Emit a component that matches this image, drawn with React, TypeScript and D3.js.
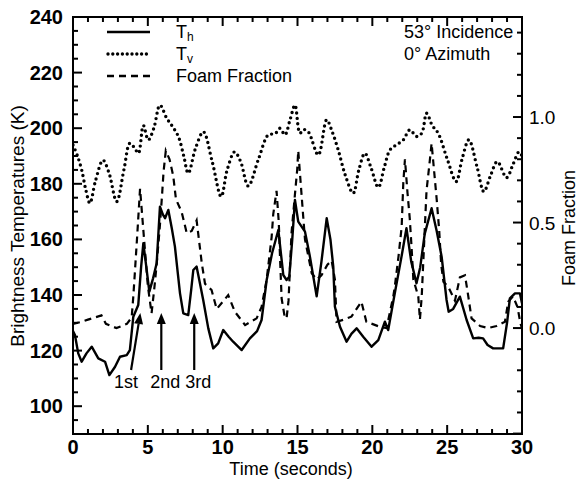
import React from "react";
import * as d3 from "d3";

// Time (s) and brightness temperature (K)
const thTime = [0,0.13,0.35,0.58,0.9,1.25,1.69,2.14,2.43,2.81,3.14,3.59,3.8,4.03,4.36,4.55,4.7,4.9,5.1,5.35,5.59,5.81,6.0,6.15,6.37,6.6,6.81,7.0,7.15,7.37,7.7,7.9,8.04,8.26,8.45,8.7,9.04,9.37,9.7,10.04,10.4,10.7,11.27,11.82,12.3,12.6,12.94,13.3,13.72,14.05,14.27,14.45,14.65,14.83,15.05,15.5,15.83,16.28,16.6,16.95,17.2,17.39,17.5,17.84,18.28,18.6,18.95,19.39,19.95,20.4,20.84,21.06,21.5,21.95,22.28,22.6,22.95,23.2,23.5,23.96,24.3,24.63,24.96,25.1,25.4,25.85,26.3,26.74,27.1,27.4,27.7,28.07,28.74,29.0,29.19,29.53,29.86,30];
const thValues = [127,125.6,119,116,119,121.4,117.2,116,111.2,114.2,117.8,118.4,120.2,132.2,136.4,150,158.6,150,141.2,146,151.4,171.8,169,167.6,170.6,164,157.4,148,140.6,133.4,132.8,142,149,150.2,145,138.2,128,120.8,122.6,127.4,125,123.2,120.2,124.4,127,131,145.4,155,163.4,147.2,145.4,146.6,160,174.2,166.4,162.8,153.8,139.5,152,167.6,160,150.2,135.8,128.6,123.2,126,128,125,121.4,123.8,130.4,127.4,140.6,153.8,164,152,144.2,150,162,171.2,163,153.8,138.2,134,135,139.4,131,124.4,124.6,124.4,122,120.8,120.8,130,138.8,140.6,140.6,137];

const tvTime = [0,0.3,0.58,0.85,1.13,1.5,2.0,2.4,2.92,3.4,3.8,4.1,4.37,4.7,5.03,5.4,5.81,6.26,6.6,7.04,7.4,7.7,8.2,8.71,9.3,9.9,10.3,10.8,11.2,11.71,12.4,13.05,13.5,13.83,14.16,14.5,14.83,15.16,15.4,15.72,16.39,16.95,17.3,17.72,18.2,18.72,19.1,19.5,19.9,20.4,20.8,21.18,21.6,22.07,22.5,22.96,23.3,23.63,24.0,24.4,25.0,25.6,26.0,26.45,27.0,27.45,27.9,28.35,28.97,29.4,29.8,30];
const tvValues = [194,190,185,178,173,181,188.5,184,173.6,185,194.6,193,191,201,195.8,200,208.3,203.6,201,197,190,183.8,193,198.7,188,175.4,185,191.5,188,179.2,189,197.6,198,200,197.6,203,208.3,198.2,199.5,198.7,190.4,203,199,192.2,183,176.6,185,191,186,178.7,186,192.2,194,195.8,199.4,197,198.2,205.4,201,198.2,189,180.8,189,195.8,186,177.2,183,188,182.2,187,191.5,190];

const foamTime = [0,0.6,1.0,1.9,2.2,2.9,3.6,3.92,4.03,4.14,4.3,4.48,4.75,5.0,5.25,5.45,5.6,5.8,5.95,6.05,6.2,6.45,6.7,6.88,7.26,7.6,7.93,8.26,8.6,8.82,9.26,9.6,10.37,10.82,11.5,12.27,12.6,12.94,13.27,13.38,13.6,13.75,13.85,13.94,14.15,14.27,14.4,14.6,14.85,14.98,15.05,15.38,15.5,15.95,16.28,16.6,17.0,17.28,17.5,17.61,18.1,18.6,19.27,19.6,20.5,20.95,21.4,21.5,21.75,21.96,22.07,22.18,22.35,22.5,22.62,22.74,23.07,23.18,23.3,23.62,23.85,23.96,24.3,24.47,24.6,24.75,25.07,25.52,25.85,26.19,26.4,26.63,27.2,27.74,28.3,28.86,29.08,29.4,29.7,29.9,30];
const foamValues = [0.02,0.03,0.04,0.06,0.02,0.0,0.02,0.05,0.15,0.27,0.45,0.66,0.42,0.2,0.07,0.2,0.31,0.48,0.63,0.74,0.84,0.8,0.72,0.61,0.55,0.45,0.46,0.51,0.31,0.21,0.18,0.09,0.156,0.077,0.014,0.046,0.1,0.23,0.43,0.54,0.65,0.5,0.3,0.14,0.05,0.046,0.13,0.45,0.65,0.75,0.84,0.53,0.42,0.26,0.23,0.25,0.3,0.32,0.23,0.03,0.04,0.054,0.125,0.03,0.006,0.0,0.15,0.196,0.34,0.48,0.69,0.8,0.64,0.52,0.385,0.23,0.15,0.04,0.15,0.65,0.8,0.875,0.61,0.46,0.3,0.22,0.196,0.13,0.24,0.25,0.156,0.046,0.01,0.0,0.01,0.03,0.125,0.15,0.1,0.02,0.0];

const xTicksMajor = [0,5,10,15,20,25,30];
const yTicksMajor = [100,120,140,160,180,200,220,240];
const foamTicksMajor = [0.0,0.5,1.0];

const legendItems = ["Th", "Tv", "Foam Fraction"];
const annotations = [
  { label: "1st", t: 4.5, tailT: 3.88 },
  { label: "2nd", t: 5.9, tailT: 5.9 },
  { label: "3rd", t: 8.1, tailT: 8.1 },
];

const W = 583, H = 480;
const M = { left: 73, right: 522, top: 17, bottom: 434 };
const FONT = "'Liberation Sans', Arial, Helvetica, sans-serif";

export default function App() {
  const x = d3.scaleLinear().domain([0, 30]).range([M.left, M.right]);
  const y = d3.scaleLinear().domain([90, 240]).range([M.bottom, M.top]);
  const yf = d3.scaleLinear().domain([-0.502, 1.474]).range([M.bottom, M.top]);

  const th = thTime.map((t, i) => [t, thValues[i]] as [number, number]);
  const tv = tvTime.map((t, i) => [t, tvValues[i]] as [number, number]);
  const ff = foamTime.map((t, i) => [t, foamValues[i]] as [number, number]);

  const lineK = d3.line<[number, number]>().x(d => x(d[0])).y(d => y(d[1]));
  const lineKs = d3.line<[number, number]>().x(d => x(d[0])).y(d => y(d[1])).curve(d3.curveCatmullRom.alpha(0.5));
  const lineF = d3.line<[number, number]>().x(d => x(d[0])).y(d => yf(d[1]));

  const xMinor = d3.range(0, 31, 1);
  const yMinor = d3.range(90, 241, 5);
  const fMinor = d3.range(-5, 15, 1).map(v => v / 10);

  const majLen = 9, minLen = 5;
  const axisStroke = 2;

  const legendY = [32, 54, 76];
  const lx1 = 107, lx2 = 150, ltx = 176;

  const arrowBaseY = 370, arrowTipY = 313;

  return (
    <svg width={W} height={H} style={{ position: "absolute", left: 0, top: 0, background: "#fff" }}>
      <defs>
        <clipPath id="plot">
          <rect x={M.left} y={M.top} width={M.right - M.left} height={M.bottom - M.top} />
        </clipPath>
      </defs>
      <rect x={0} y={0} width={W} height={H} fill="#fff" />

      {/* data */}
      <g clipPath="url(#plot)">
        <path d={lineF(ff) || ""} fill="none" stroke="#000" strokeWidth={2.2} strokeDasharray="7 5" />
        <path d={lineKs(tv) || ""} fill="none" stroke="#000" strokeWidth={3.4} strokeDasharray="0 5.4" strokeLinecap="round" />
        <path d={lineK(th) || ""} fill="none" stroke="#000" strokeWidth={2.4} strokeLinejoin="round" />
      </g>

      {/* frame */}
      <rect x={M.left} y={M.top} width={M.right - M.left} height={M.bottom - M.top} fill="none" stroke="#000" strokeWidth={axisStroke} />

      {/* x ticks bottom + top */}
      {xMinor.map(v => {
        const len = v % 5 === 0 ? majLen : minLen;
        return (
          <g key={"xt" + v}>
            <line x1={x(v)} x2={x(v)} y1={M.bottom} y2={M.bottom - len} stroke="#000" strokeWidth={axisStroke} />
            <line x1={x(v)} x2={x(v)} y1={M.top} y2={M.top + len} stroke="#000" strokeWidth={axisStroke} />
          </g>
        );
      })}
      {/* y ticks left */}
      {yMinor.map(v => {
        const len = v % 20 === 0 ? majLen : minLen;
        return <line key={"yt" + v} x1={M.left} x2={M.left + len} y1={y(v)} y2={y(v)} stroke="#000" strokeWidth={axisStroke} />;
      })}
      {/* foam ticks right */}
      {fMinor.map(v => {
        const major = Math.abs(Math.round(v * 10) % 5) === 0;
        const len = major ? majLen : minLen;
        return <line key={"ft" + v} x1={M.right} x2={M.right - len} y1={yf(v)} y2={yf(v)} stroke="#000" strokeWidth={axisStroke} />;
      })}

      {/* tick labels */}
      <g fontFamily={FONT} fontSize={20} fontWeight="bold" fill="#000">
        {xTicksMajor.map(v => (
          <text key={"xl" + v} x={x(v)} y={454} textAnchor="middle">{v}</text>
        ))}
        {yTicksMajor.map(v => (
          <text key={"yl" + v} x={63} y={y(v) + 7} textAnchor="end">{v}</text>
        ))}
      </g>
      <g fontFamily={FONT} fontSize={19} fill="#000">
        {foamTicksMajor.map(v => (
          <text key={"fl" + v} x={529} y={yf(v) + 7} textAnchor="start">{v.toFixed(1)}</text>
        ))}
      </g>

      {/* axis titles */}
      <g fontFamily={FONT} fontSize={18} fill="#000">
        <text x={291} y={475} textAnchor="middle">Time (seconds)</text>
        <text transform={`translate(24,226) rotate(-90)`} textAnchor="middle" fontSize={19}>Brightness Temperatures (K)</text>
        <text transform={`translate(575,228) rotate(-90)`} textAnchor="middle">Foam Fraction</text>
      </g>

      {/* legend */}
      <g fontFamily={FONT} fontSize={18} fill="#000">
        <line x1={lx1} x2={lx2} y1={legendY[0]} y2={legendY[0]} stroke="#000" strokeWidth={2.4} />
        <line x1={lx1 + 1} x2={lx2} y1={legendY[1]} y2={legendY[1]} stroke="#000" strokeWidth={3.4} strokeDasharray="0 4.8" strokeLinecap="round" />
        <line x1={lx1} x2={lx2} y1={legendY[2]} y2={legendY[2]} stroke="#000" strokeWidth={2.4} strokeDasharray="7 5" />
        <text x={ltx} y={legendY[0] + 6}>T<tspan fontSize={12} dy={3}>h</tspan></text>
        <text x={ltx} y={legendY[1] + 6}>T<tspan fontSize={12} dy={3}>v</tspan></text>
        <text x={ltx} y={legendY[2] + 6}>{legendItems[2]}</text>
        <text x={404} y={legendY[0] + 6}>53° Incidence</text>
        <text x={404} y={legendY[1] + 6}>0° Azimuth</text>
      </g>

      {/* annotations */}
      <g fontFamily={FONT} fontSize={18} fill="#000">
        {annotations.map(a => {
          const tipX = x(a.t), tailX = x(a.tailT);
          const ang = Math.atan2(arrowTipY - arrowBaseY, tipX - tailX);
          const hl = 11, hw = 4.5;
          const bx = tipX - hl * Math.cos(ang), by = arrowTipY - hl * Math.sin(ang);
          const px = -Math.sin(ang) * hw, py = Math.cos(ang) * hw;
          return (
            <g key={a.label}>
              <line x1={tailX} y1={arrowBaseY} x2={bx} y2={by} stroke="#000" strokeWidth={2.2} />
              <polygon points={`${tipX},${arrowTipY} ${bx + px},${by + py} ${bx - px},${by - py}`} fill="#000" />
              <text x={a.label === "1st" ? x(a.tailT) - 5 : tipX + 4} y={388} textAnchor="middle">{a.label}</text>
            </g>
          );
        })}
      </g>
    </svg>
  );
}
